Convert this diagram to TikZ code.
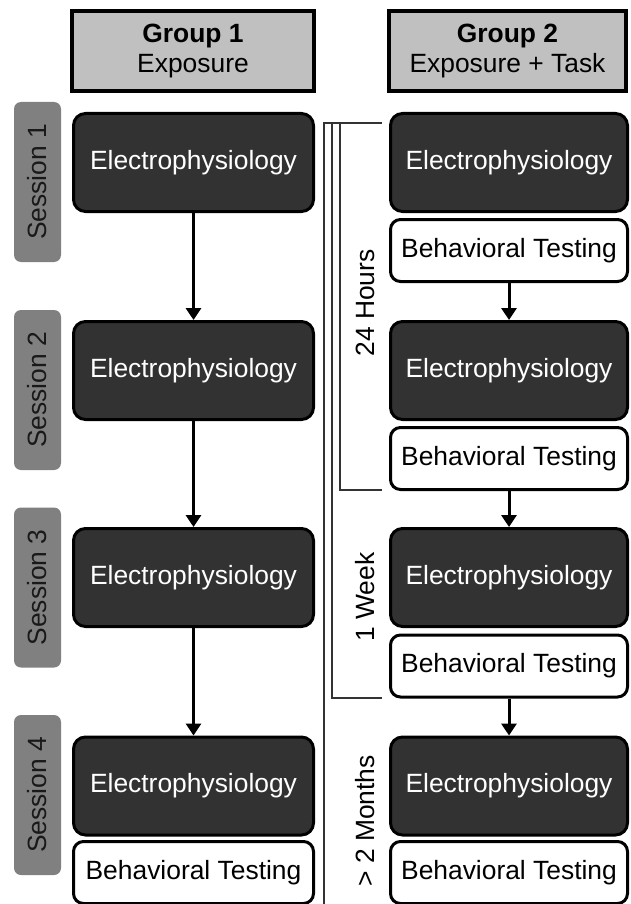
\documentclass[tikz,border=0pt]{standalone}
\usepackage{fontspec}
\setmainfont{Liberation Sans}
\usetikzlibrary{arrows.meta}
\definecolor{hdrgray}{HTML}{C0C0C0}
\definecolor{darkbox}{HTML}{323232}
\definecolor{tabgray}{HTML}{808080}
\definecolor{brkgray}{HTML}{333333}
\begin{document}
\begin{tikzpicture}[x=1pt,y=-1pt,
  txt/.style={font=\fontsize{26.4}{30}\selectfont},
  hdrbox/.style={draw=black, line width=4pt, fill=hdrgray, txt, align=center,
    inner sep=0pt, minimum width=240pt, minimum height=80pt},
  ephys/.style={draw=black, line width=3pt, fill=darkbox, rounded corners=12pt,
    txt, text=white, inner sep=0pt, minimum height=98pt},
  btest/.style={draw=black, line width=3pt, fill=white, rounded corners=10pt,
    txt, text=black, inner sep=0pt, minimum height=62pt},
  sesstab/.style={fill=tabgray, rounded corners=7pt, inner sep=0pt,
    minimum width=160pt, minimum height=47pt, rotate=90, txt, text=black!90},
  flow/.style={line width=3pt, -{Triangle[length=12pt,width=15pt]}},
  brk/.style={draw=brkgray, line width=1.4pt},
  brklabel/.style={txt, rotate=90, text=black}
]
\useasboundingbox (0,0) rectangle (630,904);

% headers
\node[hdrbox, minimum width=242pt] (h1) at (193,51) {\textbf{Group 1}\\Exposure};
\node[hdrbox, minimum width=237pt] (h2) at (507.5,51.5) {\textbf{Group 2}\\Exposure + Task};

% session tabs
\node[sesstab] (s1) at (37.5,182) {Session 1};
\node[sesstab] (s2) at (37.5,390) {Session 2};
\node[sesstab] (s3) at (37.5,587.5) {Session 3};
\node[sesstab] (s4) at (37.5,795) {Session 4};

% group 1 column
\node[ephys, minimum width=240pt] (l1) at (193.5,162.5) {Electrophysiology};
\node[ephys, minimum width=240pt] (l2) at (193.5,370.5) {Electrophysiology};
\node[ephys, minimum width=240pt] (l3) at (193.5,577.5) {Electrophysiology};
\node[ephys, minimum width=240pt] (l4) at (193.5,786) {Electrophysiology};
\node[btest, minimum width=240pt] (lb4) at (193.5,872.5) {Behavioral Testing};

\draw[flow] (l1.south) -- (l2.north);
\draw[flow] (l2.south) -- (l3.north);
\draw[flow] (l3.south) -- (l4.north);

% group 2 column
\node[ephys, minimum width=237pt] (r1) at (509,162.5) {Electrophysiology};
\node[btest, minimum width=237pt] (rb1) at (509,250.5) {Behavioral Testing};
\node[ephys, minimum width=237pt] (r2) at (509,370.5) {Electrophysiology};
\node[btest, minimum width=237pt] (rb2) at (509,458.5) {Behavioral Testing};
\node[ephys, minimum width=237pt] (r3) at (509,577.5) {Electrophysiology};
\node[btest, minimum width=237pt] (rb3) at (509,666) {Behavioral Testing};
\node[ephys, minimum width=237pt] (r4) at (509,786) {Electrophysiology};
\node[btest, minimum width=237pt] (rb4) at (509,872.5) {Behavioral Testing};

\draw[flow] (rb1.south) -- (r2.north);
\draw[flow] (rb2.south) -- (r3.north);
\draw[flow] (rb3.south) -- (r4.north);

% time brackets
\coordinate (tA) at (324,123);
\coordinate (tB) at (382,123);
\coordinate (bA) at (324,910);
\coordinate (wTop) at (332,123);
\coordinate (wBot) at (332,698);
\coordinate (wEnd) at (382,698);
\coordinate (hTop) at (340,123);
\coordinate (hBot) at (340,490);
\coordinate (hEnd) at (382,490);
\draw[brk] (tB) -- (tA) -- (bA);
\draw[brk] (wTop) -- (wBot) -- (wEnd);
\draw[brk] (hTop) -- (hBot) -- (hEnd);

\node[brklabel] (t24) at (365,303) {24 Hours};
\node[brklabel] (t1w) at (365,597) {1 Week};
\node[brklabel] (t2m) at (365,821) {> 2 Months};
\end{tikzpicture}
\end{document}
